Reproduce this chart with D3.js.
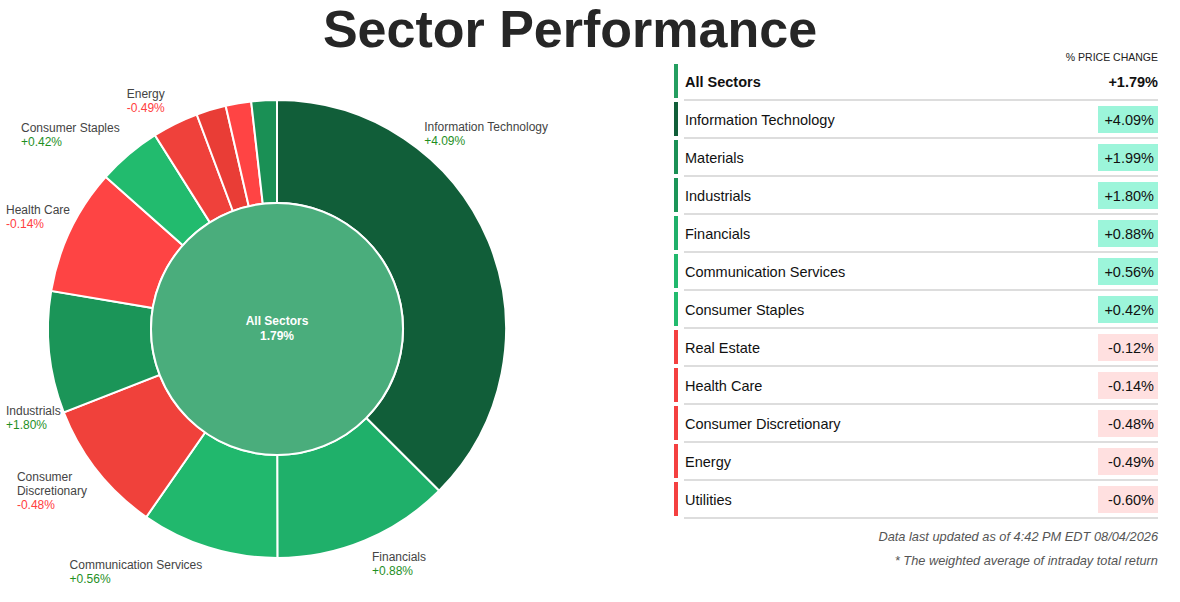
<!DOCTYPE html>
<html>
<head>
<meta charset="utf-8">
<script src="https://cdn.jsdelivr.net/npm/d3@7"></script>
<style>
  body { margin: 0; background: #fff; font-family: "Liberation Sans", Arial, sans-serif; }
</style>
</head>
<body>
<script>
// Sector data, in the donut's clockwise order.
const sectors = ["Information Technology", "Financials", "Communication Services", "Consumer Discretionary",
  "Industrials", "Health Care", "Consumer Staples", "Energy", "Utilities", "Real Estate", "Materials"];
const changes = [4.09, 0.88, 0.56, -0.48, 1.80, -0.14, 0.42, -0.49, -0.60, -0.12, 1.99];
const weights = [37.5, 12.5, 9.7, 9.4, 8.6, 8.9, 4.5, 3.25, 2.1, 1.8, 1.8];
const allSectors = { name: "All Sectors", change: 1.79 };

const footnotes = ["Data last updated as of 4:42 PM EDT 08/04/2026", "* The weighted average of intraday total return"];

const width = 1180, height = 602;

const svg = d3.select("body").append("svg")
  .attr("width", width)
  .attr("height", height);

// Title
svg.append("text")
  .attr("x", 570).attr("y", 47)
  .attr("text-anchor", "middle")
  .style("font-size", "52px")
  .style("font-weight", "bold")
  .style("fill", "#262626")
  .text("Sector Performance");

// Colour scales: greens by gain, reds by loss.
const posColor = d3.scaleLinear()
  .domain([0.42, 0.88, 1.8, 4.09])
  .range(["#22bb6e", "#1fb06a", "#1b9558", "#115e39"])
  .clamp(true);
const negColor = d3.scaleLinear()
  .domain([-0.6, -0.48, -0.12])
  .range(["#e93d36", "#f0413b", "#ff4444"])
  .clamp(true);
const color = v => v >= 0 ? posColor(v) : negColor(v);

const data = sectors.map((name, i) => ({ name, change: changes[i], weight: weights[i] }));

// ---- Donut ----
const cx = 277, cy = 329;
const outerR = 229, innerR = 126;
const panel = [6, 548]; // horizontal room for labels
const tol = 10;         // overflow that is fixed by nudging sideways instead of sliding

const pie = d3.pie().sort(null).value(d => d.weight);
const arc = d3.arc().innerRadius(innerR).outerRadius(outerR);
const arcs = pie(data);

const donut = svg.append("g").attr("transform", `translate(${cx},${cy})`);

donut.selectAll("path.slice")
  .data(arcs)
  .enter()
  .append("path")
  .attr("class", "slice")
  .attr("d", arc)
  .attr("fill", d => color(d.data.change))
  .attr("stroke", "#fff")
  .attr("stroke-width", 2);

donut.append("circle")
  .attr("r", innerR)
  .attr("fill", "#4aad7c")
  .attr("stroke", "#fff")
  .attr("stroke-width", 2);

donut.append("text")
  .attr("text-anchor", "middle")
  .attr("y", -4)
  .style("font-size", "12px")
  .style("font-weight", "bold")
  .style("fill", "#fff")
  .text(allSectors.name);
donut.append("text")
  .attr("text-anchor", "middle")
  .attr("y", 11)
  .style("font-size", "12px")
  .style("font-weight", "bold")
  .style("fill", "#fff")
  .text(allSectors.change.toFixed(2) + "%");

// Labels: placed at mid angle, long ones wrap, otherwise slide along the circle to fit.
const fmt = v => (v >= 0 ? "+" : "") + v.toFixed(2) + "%";
const labelRx = outerR + 8, labelRy = outerR + 12;
const gap = 4;
const lineH = 14;
const measure = svg.append("text").style("font-size", "12px").attr("visibility", "hidden");
const textW = s => { measure.text(s); return measure.node().getComputedTextLength(); };

function layout(a, lines) {
  const w = d3.max(lines.concat([fmt(0)]), textW);
  const right = Math.sin(a) >= 0;
  const ax = cx + labelRx * Math.sin(a) + (right ? gap : -gap);
  const ay = cy - labelRy * Math.cos(a);
  const x0 = right ? ax : ax - w;
  const h = (lines.length + 1) * lineH;
  const top = ay - h / 2 - (h / 2) * Math.cos(a);
  const over = Math.max(panel[0] - x0, x0 + w - panel[1], 0);
  return { a, lines, w, x0, top, over };
}

function clampX(L) {
  L.x0 = Math.max(panel[0], Math.min(panel[1] - L.w, L.x0));
  return L;
}

const labels = arcs.filter(d => d.data.weight >= 3).map(d => {
  const mid = (d.startAngle + d.endAngle) / 2;
  const lines = [d.data.name];
  let L = layout(mid, lines);
  if (L.over <= tol) return { d, L: clampX(L) };
  const words = d.data.name.split(" ");
  if (L.w > 100 && words.length > 1) {
    const W = layout(mid, words);
    if (W.over <= tol) return { d, L: clampX(W) };
  }
  // slide toward nearest vertical axis
  const target = Math.round(mid / Math.PI) * Math.PI;
  const step = (target > mid ? 1 : -1) * Math.PI / 720;
  let a = mid;
  while (L.over > tol && Math.abs(target - a) > Math.abs(step)) {
    a += step;
    L = layout(a, lines);
  }
  return { d, L: clampX(L) };
});
measure.remove();

const lab = svg.append("g").selectAll("text.lbl")
  .data(labels)
  .enter()
  .append("text")
  .attr("class", "lbl")
  .style("font-size", "12px");

lab.each(function (o) {
  const t = d3.select(this);
  o.L.lines.forEach((s, i) => {
    t.append("tspan")
      .attr("x", o.L.x0)
      .attr("y", o.L.top + 11 + i * lineH)
      .style("fill", "#444")
      .text(s);
  });
  t.append("tspan")
    .attr("x", o.L.x0)
    .attr("y", o.L.top + 11 + o.L.lines.length * lineH)
    .style("fill", o.d.data.change >= 0 ? "#1f8f1f" : "#ff4040")
    .text(fmt(o.d.data.change));
});

// ---- Table ----
const tableLeft = 674, tableRight = 1158;
const rows = [allSectors].concat(data.slice().sort((a, b) => b.change - a.change));

const y = d3.scaleBand()
  .domain(rows.map(d => d.name))
  .range([62, 62 + rows.length * 38]);

svg.append("text")
  .attr("x", tableRight).attr("y", 61)
  .attr("text-anchor", "end")
  .style("font-size", "10.5px")
  .style("fill", "#222")
  .text("% PRICE CHANGE");

const row = svg.append("g").selectAll("g.row")
  .data(rows)
  .enter()
  .append("g")
  .attr("class", "row")
  .attr("transform", d => `translate(0,${y(d.name)})`);

row.append("rect")
  .attr("x", tableLeft).attr("y", 2)
  .attr("width", 4).attr("height", y.bandwidth() - 4)
  .attr("fill", d => d === allSectors ? "#249e60" : (d.change >= 0 ? color(d.change) : "#f44040"));

row.append("line")
  .attr("x1", 684).attr("x2", tableRight)
  .attr("y1", y.bandwidth()).attr("y2", y.bandwidth())
  .attr("stroke", "#d2d2d2")
  .attr("stroke-width", 1.5);

row.filter(d => d !== allSectors).append("rect")
  .attr("x", 1098).attr("y", 6)
  .attr("width", tableRight - 1098).attr("height", 27)
  .attr("fill", d => d.change >= 0 ? "#9cf5da" : "#ffe0e0");

row.append("text")
  .attr("x", 685).attr("y", 25)
  .style("font-size", "14.5px")
  .style("font-weight", d => d === allSectors ? "bold" : "normal")
  .style("fill", "#111")
  .text(d => d.name);

row.append("text")
  .attr("x", d => d === allSectors ? tableRight : 1154)
  .attr("y", 25)
  .attr("text-anchor", "end")
  .style("font-size", "14.5px")
  .style("font-weight", d => d === allSectors ? "bold" : "normal")
  .style("fill", "#111")
  .text(d => fmt(d.change));

svg.append("g").selectAll("text.note")
  .data(footnotes)
  .enter()
  .append("text")
  .attr("x", tableRight)
  .attr("y", (d, i) => 541 + i * 24)
  .attr("text-anchor", "end")
  .style("font-size", "12.8px")
  .style("font-style", "italic")
  .style("fill", "#555")
  .text(d => d);
</script>
</body>
</html>
